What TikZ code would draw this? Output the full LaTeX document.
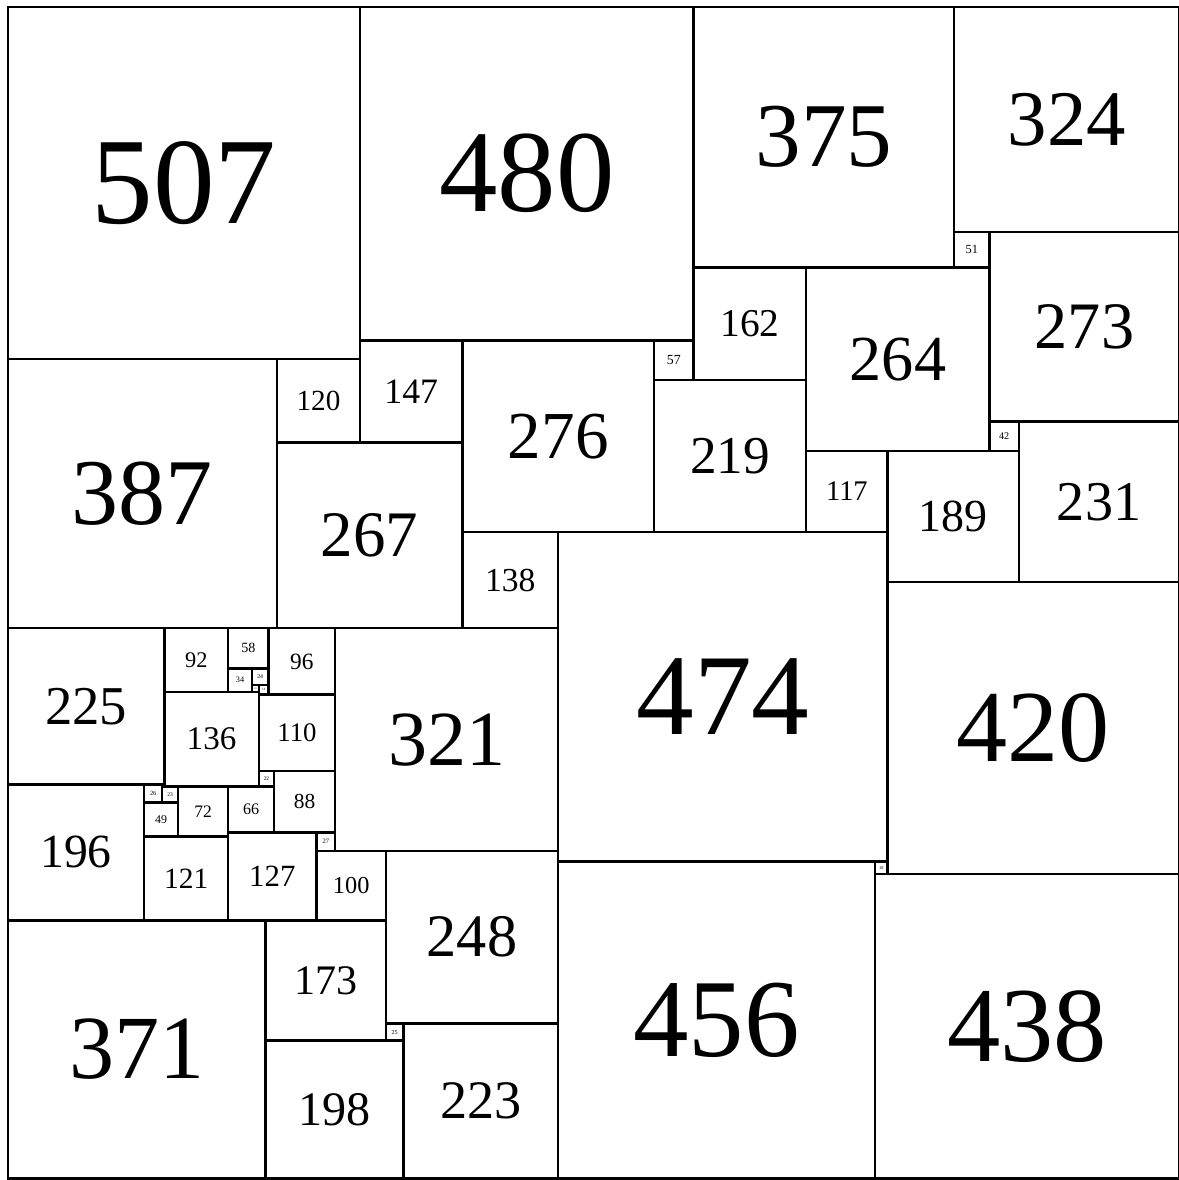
\documentclass[tikz,border=0pt]{standalone}
\usepackage{fontspec}
\setmainfont{Liberation Serif}
\usepackage{tikz}

\begin{document}
\begin{tikzpicture}[
x=1pt, y=-1pt,
sqbox/.style={draw=black, line width=3.6pt, rectangle, inner sep=0pt, outer sep=0pt}
]
\useasboundingbox (-11.5,-10) rectangle (1685,1688.5);
% x/y of the upper left corner, then the side
\foreach \x/\y/\s in {
0/0/507, 507/0/480, 987/0/375, 1362/0/324,
1362/324/51, 1413/324/273, 987/375/162, 1149/375/264,
930/480/57, 930/537/219, 0/507/387, 387/507/120,
507/480/147, 654/480/276, 387/627/267, 654/756/138,
792/756/474, 1149/639/117, 1266/639/189, 1413/597/42,
1455/597/231, 1266/828/420, 1248/1230/18, 1248/1248/438,
792/1230/456, 0/894/225, 0/1119/196, 0/1315/371,
225/894/92, 317/894/58, 375/894/96, 317/952/34,
351/952/24, 351/976/10, 361/976/14, 225/986/136,
361/990/110, 361/1100/22, 383/1100/88, 196/1119/26,
222/1119/3, 222/1122/23, 245/1122/72, 317/1122/66,
196/1145/49, 196/1194/121, 317/1188/127, 444/1188/27,
444/1215/100, 471/894/321, 544/1215/248, 371/1315/173,
544/1463/25, 371/1488/198, 569/1463/223}
{
  \pgfmathsetmacro\fs{0.35*\s}
  \node[sqbox, minimum size=\s pt, font=\fontsize{\fs pt}{\fs pt}\selectfont]
    (sq\s) at (\x+\s/2, \y+\s/2) {\s};
}
\end{tikzpicture}
\end{document}
